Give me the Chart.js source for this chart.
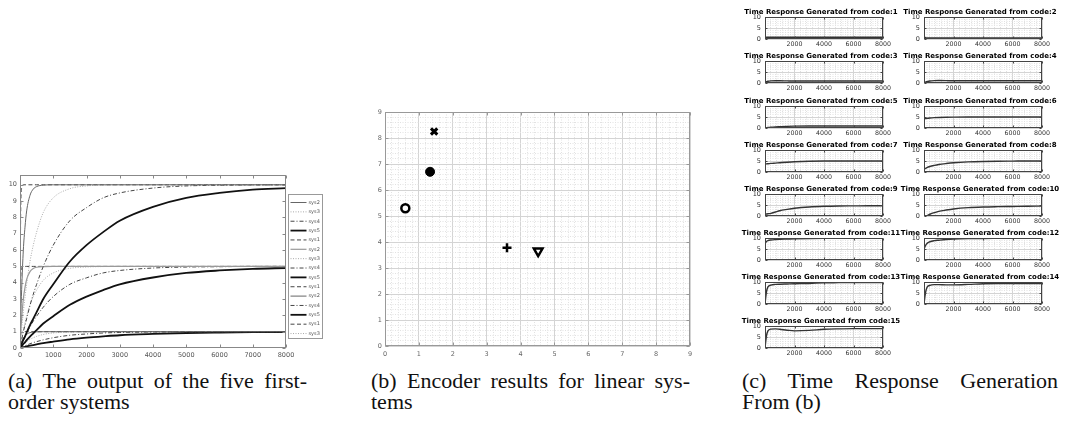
<!DOCTYPE html>
<html>
<head>
<meta charset="utf-8">
<script src="https://cdn.jsdelivr.net/npm/chart.js@4.4.1/dist/chart.umd.min.js"></script>
<style>
  body { margin: 0; background: #fff; width: 1069px; height: 426px; overflow: hidden; position: relative; }
  canvas { position: absolute; }
  .cap { position: absolute; font-family: "Liberation Serif", "Times New Roman", serif; font-size: 22px; line-height: 21px; color: #111; white-space: nowrap; }
  .cap .l1 { text-align: justify; text-align-last: justify; }
</style>
</head>
<body>

<div class="cap" style="left:8px; top:370px; width:299px;">
  <div class="l1">(a) The output of the five first-</div>
  <div>order systems</div>
</div>
<div class="cap" style="left:371px; top:370px; width:319px;">
  <div class="l1">(b) Encoder results for linear sys-</div>
  <div>tems</div>
</div>
<div class="cap" style="left:742px; top:370px; width:316px;">
  <div class="l1">(c) Time Response Generation</div>
  <div>From (b)</div>
</div>

<script>
// =====================
// (a) first-order outputs
// =====================

const tA = [0, 20, 50, 100, 150, 200, 300, 400, 500, 700, 1000, 1500, 2000, 2500, 3000, 4000, 5000, 6000, 7000, 8000];
const xTicksA = [0, 1000, 2000, 3000, 4000, 5000, 6000, 7000, 8000];
const yTicksA = [0, 1, 2, 3, 4, 5, 6, 7, 8, 9, 10];

// gain 10
const a10_sys2 = [0, 1.7, 3.6, 6.0, 7.4, 8.4, 9.35, 9.74, 9.89, 9.98, 10, 10, 10, 10, 10, 10, 10, 10, 10, 10];
const a10_sys3 = [0, 0.5, 1.2, 2.2, 3.1, 3.9, 5.3, 6.3, 7.1, 8.3, 9.2, 9.76, 9.93, 9.98, 10, 10, 10, 10, 10, 10];
const a10_sys4 = [0, 0.2, 0.5, 1.0, 1.4, 1.8, 2.6, 3.3, 3.9, 5.0, 6.3, 7.8, 8.6, 9.2, 9.5, 9.8, 9.93, 9.97, 9.99, 10];
const a10_sys5 = [0, 0.1, 0.25, 0.5, 0.7, 0.95, 1.4, 1.8, 2.2, 3.0, 3.9, 5.3, 6.3, 7.1, 7.8, 8.65, 9.2, 9.5, 9.7, 9.8];
const a10_sys1 = [0, 8.2, 9.8, 10, 10, 10, 10, 10, 10, 10, 10, 10, 10, 10, 10, 10, 10, 10, 10, 10];
// gain 5
const a5_sys2 = [0, 0.85, 1.8, 3.0, 3.7, 4.2, 4.68, 4.87, 4.95, 4.99, 5, 5, 5, 5, 5, 5, 5, 5, 5, 5];
const a5_sys3 = [0, 0.25, 0.6, 1.1, 1.55, 1.95, 2.65, 3.15, 3.55, 4.15, 4.6, 4.88, 4.96, 4.99, 5, 5, 5, 5, 5, 5];
const a5_sys4 = [0, 0.1, 0.25, 0.5, 0.7, 0.9, 1.3, 1.65, 1.95, 2.5, 3.15, 3.9, 4.3, 4.6, 4.75, 4.9, 4.96, 4.98, 5, 5];
const a5_sys5 = [0, 0.05, 0.12, 0.25, 0.35, 0.48, 0.7, 0.9, 1.1, 1.5, 1.95, 2.65, 3.15, 3.55, 3.9, 4.32, 4.6, 4.75, 4.85, 4.9];
const a5_sys1 = [0, 4.1, 4.9, 5, 5, 5, 5, 5, 5, 5, 5, 5, 5, 5, 5, 5, 5, 5, 5, 5];
// gain 1
const a1_sys2 = [0, 0.17, 0.36, 0.6, 0.74, 0.84, 0.94, 0.97, 0.99, 1, 1, 1, 1, 1, 1, 1, 1, 1, 1, 1];
const a1_sys4 = [0, 0.02, 0.05, 0.1, 0.14, 0.18, 0.26, 0.33, 0.39, 0.5, 0.63, 0.78, 0.86, 0.92, 0.95, 0.98, 0.99, 1, 1, 1];
const a1_sys5 = [0, 0.01, 0.025, 0.05, 0.07, 0.1, 0.14, 0.18, 0.22, 0.3, 0.39, 0.53, 0.63, 0.71, 0.78, 0.86, 0.92, 0.95, 0.97, 0.98];
const a1_sys1 = [0, 0.82, 0.98, 1, 1, 1, 1, 1, 1, 1, 1, 1, 1, 1, 1, 1, 1, 1, 1, 1];
const a1_sys3 = [0, 0.05, 0.12, 0.22, 0.31, 0.39, 0.53, 0.63, 0.71, 0.83, 0.92, 0.98, 0.99, 1, 1, 1, 1, 1, 1, 1];

// =====================
// (b) encoder results
// =====================

const encNames = ["o", "dot", "x", "+", "v"];
const encX = [0.6, 1.33, 1.45, 3.6, 4.52];
const encY = [5.3, 6.7, 8.25, 3.78, 3.65];
const xTicksB = [0, 1, 2, 3, 4, 5, 6, 7, 8, 9];
const yTicksB = [0, 1, 2, 3, 4, 5, 6, 7, 8, 9];

// =====================
// (c) generated time responses
// =====================

const tC = [0, 100, 200, 400, 700, 1000, 1500, 2000, 3000, 4000, 5000, 6000, 7000, 8000];
const xTicksC = [2000, 4000, 6000, 8000];
const yTicksC = [0, 5, 10];

const code1  = [0.6, 0.8, 0.8, 0.8, 0.8, 0.8, 0.8, 0.8, 0.8, 0.8, 0.8, 0.8, 0.8, 0.8];
const code2  = [1.0, 0.6, 0.5, 0.5, 0.5, 0.5, 0.5, 0.5, 0.5, 0.5, 0.5, 0.5, 0.5, 0.5];
const code3  = [0.3, 0.6, 0.8, 0.95, 1.0, 1.0, 0.95, 0.9, 0.9, 0.9, 0.9, 0.9, 0.9, 0.9];
const code4  = [0, 0.4, 0.6, 0.9, 1.1, 1.15, 1.1, 1.0, 1.0, 1.0, 1.0, 1.0, 1.0, 1.0];
const code5  = [0, 0.1, 0.2, 0.35, 0.5, 0.6, 0.75, 0.85, 0.9, 0.9, 0.9, 0.9, 0.9, 0.9];
const code6  = [4.2, 4.3, 4.4, 4.55, 4.7, 4.8, 4.9, 4.95, 5.0, 5.0, 5.0, 5.0, 5.0, 5.0];
const code7  = [3.6, 3.7, 3.75, 3.9, 4.05, 4.2, 4.45, 4.65, 4.9, 5.0, 5.0, 5.0, 5.0, 5.0];
const code8  = [1.2, 1.6, 2.0, 2.5, 3.0, 3.4, 3.85, 4.2, 4.6, 4.8, 4.9, 4.95, 5.0, 5.0];
const code9  = [0.8, 0.9, 1.0, 1.2, 1.8, 2.4, 3.0, 3.5, 4.1, 4.4, 4.55, 4.6, 4.65, 4.65];
const code10 = [0, 0, 0.2, 0.8, 1.5, 2.1, 2.7, 3.2, 3.8, 4.1, 4.25, 4.35, 4.45, 4.5];
const code11 = [7.5, 8.4, 8.8, 9.1, 9.3, 9.4, 9.5, 9.6, 9.75, 9.85, 9.9, 9.95, 10, 10];
const code12 = [5.0, 6.5, 7.5, 8.3, 8.8, 9.0, 9.3, 9.5, 9.7, 9.8, 9.85, 9.9, 9.95, 10];
const code13 = [0, 5.5, 7.8, 8.6, 8.9, 9.0, 9.1, 9.2, 9.35, 9.6, 9.7, 9.8, 9.8, 9.8];
const code14 = [0, 5.0, 7.5, 8.5, 8.8, 8.8, 8.7, 8.7, 8.9, 9.2, 9.3, 9.3, 9.3, 9.3];
const code15 = [0, 5.5, 7.8, 8.6, 8.7, 8.5, 8.1, 7.8, 8.0, 8.5, 8.7, 8.8, 8.8, 8.8];

const codes = [code1, code2, code3, code4, code5, code6, code7, code8, code9, code10, code11, code12, code13, code14, code15];

// =====================
// helpers
// =====================

Chart.defaults.font.family = "'DejaVu Sans', sans-serif";
Chart.defaults.animation = false;

function makeCanvas(left, top, w, h) {
  const c = document.createElement("canvas");
  c.width = w; c.height = h;
  c.style.left = left + "px"; c.style.top = top + "px";
  c.style.width = w + "px"; c.style.height = h + "px";
  document.body.appendChild(c);
  return c;
}

const pts = (xs, ys) => xs.map((x, i) => ({ x: x, y: ys[i] }));
const near = (v, list) => list.some(m => Math.abs(m - v) < 1e-6);
const steps = (from, to, step) => {
  const out = [];
  for (let i = 0; from + i * step <= to + 1e-9; i++) out.push(+(from + i * step).toFixed(4));
  return out;
};

// box round the plot + inward ticks on all four sides
const framePlugin = {
  id: "frame",
  afterDraw(chart, args, o) {
    const { ctx, chartArea: a, scales } = chart;
    const L = Math.round(a.left) + 0.5, T = Math.round(a.top) + 0.5;
    const R = Math.round(a.right) - 0.5, B = Math.round(a.bottom) - 0.5;
    ctx.save();
    ctx.strokeStyle = o.color;
    ctx.lineWidth = 1;
    ctx.strokeRect(L, T, R - L, B - T);
    ctx.beginPath();
    o.xTicks.forEach(v => {
      const p = Math.round(scales.x.getPixelForValue(v)) + 0.5;
      ctx.moveTo(p, B); ctx.lineTo(p, B - o.len);
      ctx.moveTo(p, T); ctx.lineTo(p, T + o.len);
    });
    o.yTicks.forEach(v => {
      const p = Math.round(scales.y.getPixelForValue(v)) + 0.5;
      ctx.moveTo(L, p); ctx.lineTo(L + o.len, p);
      ctx.moveTo(R, p); ctx.lineTo(R - o.len, p);
    });
    ctx.stroke();
    ctx.restore();
  }
};

// matlab style legend with line samples
const legendPlugin = {
  id: "lineLegend",
  afterDraw(chart, args, o) {
    const { ctx, chartArea } = chart;
    const x0 = Math.round(chartArea.right) + o.gap + 0.5;
    const y0 = o.top + 0.5;
    ctx.save();
    ctx.fillStyle = "#fff";
    ctx.fillRect(x0, y0, o.width, o.height);
    ctx.strokeStyle = "#999";
    ctx.lineWidth = 1;
    ctx.strokeRect(x0, y0, o.width, o.height);
    ctx.font = o.fontSize + "px 'DejaVu Sans'";
    ctx.textBaseline = "middle";
    chart.data.datasets.forEach((ds, i) => {
      const y = y0 + o.first + i * o.step;
      ctx.setLineDash(ds.borderDash || []);
      ctx.strokeStyle = ds.borderColor;
      ctx.lineWidth = ds.borderWidth;
      ctx.beginPath();
      ctx.moveTo(x0 + 2, y);
      ctx.lineTo(x0 + 18, y);
      ctx.stroke();
      ctx.setLineDash([]);
      ctx.fillStyle = "#555";
      ctx.fillText(ds.label, x0 + 20, y);
    });
    ctx.restore();
  }
};

// =====================
// (a) chart
// =====================

const SOLID = [], DOT = [1, 1.5], DASH = [4, 2.5], DASHDOT = [4, 2, 1, 2];
function lineSet(label, ys, color, width, dash) {
  return {
    label: label, data: pts(tA, ys),
    borderColor: color, borderWidth: width, borderDash: dash,
    pointRadius: 0, cubicInterpolationMode: "monotone", fill: false
  };
}

new Chart(makeCanvas(0, 165, 330, 200), {
  type: "line",
  data: {
    datasets: [
      lineSet("sys2", a10_sys2, "#666", 1, SOLID),
      lineSet("sys3", a10_sys3, "#aaa", 1, DOT),
      lineSet("sys4", a10_sys4, "#444", 1, DASHDOT),
      lineSet("sys5", a10_sys5, "#111", 1.8, SOLID),
      lineSet("sys1", a10_sys1, "#444", 1, DASH),
      lineSet("sys2", a5_sys2, "#999", 1.2, SOLID),
      lineSet("sys3", a5_sys3, "#aaa", 1, DOT),
      lineSet("sys4", a5_sys4, "#444", 1, DASHDOT),
      lineSet("sys5", a5_sys5, "#111", 1.8, SOLID),
      lineSet("sys1", a5_sys1, "#444", 1, DASH),
      lineSet("sys2", a1_sys2, "#666", 1, SOLID),
      lineSet("sys4", a1_sys4, "#444", 1, DASHDOT),
      lineSet("sys5", a1_sys5, "#111", 1.8, SOLID),
      lineSet("sys1", a1_sys1, "#444", 1, DASH),
      lineSet("sys3", a1_sys3, "#aaa", 1, DOT)
    ]
  },
  options: {
    responsive: false,
    layout: { padding: { top: 10, right: 44, left: 0, bottom: 0 } },
    plugins: {
      legend: { display: false },
      tooltip: { enabled: false },
      frame: { color: "#888", len: 3, xTicks: xTicksA, yTicks: yTicksA },
      lineLegend: { gap: 2, top: 29, width: 34, height: 144, first: 8, step: 9.36, fontSize: 5 }
    },
    scales: {
      x: {
        type: "linear", min: 0, max: 8000,
        afterBuildTicks: s => { s.ticks = xTicksA.map(v => ({ value: v })); },
        afterFit: s => { s.height = 17; },
        grid: { display: false, drawTicks: false },
        border: { display: false },
        ticks: { color: "#555", font: { size: 6.5 }, padding: 3, autoSkip: false, maxRotation: 0,
                 callback: v => String(v) }
      },
      y: {
        min: 0, max: 10.6,
        afterBuildTicks: s => { s.ticks = yTicksA.map(v => ({ value: v })); },
        afterFit: s => { s.width = 20; },
        grid: { display: false, drawTicks: false },
        border: { display: false },
        ticks: { color: "#555", font: { size: 6.5 }, padding: 3, autoSkip: false,
                 callback: v => String(v) }
      }
    }
  },
  plugins: [framePlugin, legendPlugin]
});

// =====================
// (b) chart
// =====================

const markerStyles = [
  { pointStyle: "circle", radius: 4, borderWidth: 2.5, bg: "#fff", rotation: 0 },
  { pointStyle: "circle", radius: 4.5, borderWidth: 1, bg: "#000", rotation: 0 },
  { pointStyle: "crossRot", radius: 4.5, borderWidth: 3, bg: "#000", rotation: 0 },
  { pointStyle: "cross", radius: 4.5, borderWidth: 2.5, bg: "#000", rotation: 0 },
  { pointStyle: "triangle", radius: 5, borderWidth: 2.5, bg: "#fff", rotation: 180 }
];

const gridColor = majors => c => near(c.tick.value, majors) ? "#d4d4d4" : "#e2e2e2";
const gridDash = majors => c => (c.tick && near(c.tick.value, majors)) ? [] : [1, 1.5];

new Chart(makeCanvas(360, 100, 340, 265), {
  type: "scatter",
  data: {
    datasets: encNames.map((name, i) => ({
      label: name,
      data: [{ x: encX[i], y: encY[i] }],
      pointStyle: markerStyles[i].pointStyle,
      pointRadius: markerStyles[i].radius,
      pointBorderWidth: markerStyles[i].borderWidth,
      pointRotation: markerStyles[i].rotation,
      pointBackgroundColor: markerStyles[i].bg,
      pointBorderColor: "#000"
    }))
  },
  options: {
    responsive: false,
    layout: { padding: { top: 12, right: 10, left: 0, bottom: 0 } },
    plugins: {
      legend: { display: false },
      tooltip: { enabled: false },
      frame: { color: "#999", len: 3, xTicks: xTicksB, yTicks: yTicksB }
    },
    scales: {
      x: {
        type: "linear", min: 0, max: 9,
        afterBuildTicks: s => { s.ticks = steps(0, 9, 0.2).map(v => ({ value: v })); },
        afterFit: s => { s.height = 19; },
        grid: { color: gridColor(xTicksB), drawTicks: false },
        border: { display: false, dash: gridDash(xTicksB) },
        ticks: { color: "#666", font: { size: 6.5 }, padding: 4, autoSkip: false, maxRotation: 0,
                 callback: v => near(v, xTicksB) ? String(Math.round(v)) : "" }
      },
      y: {
        min: 0, max: 9,
        afterBuildTicks: s => { s.ticks = steps(0, 9, 0.2).map(v => ({ value: v })); },
        afterFit: s => { s.width = 25; },
        grid: { color: gridColor(yTicksB), drawTicks: false },
        border: { display: false, dash: gridDash(yTicksB) },
        ticks: { color: "#666", font: { size: 6.5 }, padding: 3, autoSkip: false,
                 callback: v => near(v, yTicksB) ? String(Math.round(v)) : "" }
      }
    }
  },
  plugins: [framePlugin]
});

// =====================
// (c) small multiples
// =====================

const colLeft = [765, 924];
const rowTop = [17, 61, 106, 150, 194, 238, 282, 326];
const xMajorC = [0, 2000, 4000, 6000, 8000];
const yMajorC = [0, 5, 10];

codes.forEach((ys, i) => {
  const plotLeft = colLeft[i % 2];
  const plotTop = rowTop[Math.floor(i / 2)];
  new Chart(makeCanvas(plotLeft - 30, plotTop - 14, 172, 47), {
    type: "line",
    data: {
      datasets: [{
        label: "code:" + (i + 1),
        data: pts(tC, ys),
        borderColor: "#333", borderWidth: 1.4,
        pointRadius: 0, cubicInterpolationMode: "monotone", fill: false
      }]
    },
    options: {
      responsive: false,
      layout: { padding: 0 },
      plugins: {
        legend: { display: false },
        tooltip: { enabled: false },
        title: {
          display: true, text: "Time Response Generated from code:" + (i + 1),
          color: "#000", font: { size: 7, weight: "bold" },
          padding: { top: 4.6, bottom: 1 }
        },
        frame: { color: "#444", len: 2, xTicks: xTicksC, yTicks: yTicksC }
      },
      scales: {
        x: {
          type: "linear", min: 0, max: 8000,
          afterBuildTicks: s => { s.ticks = steps(0, 8000, 400).map(v => ({ value: v })); },
          afterFit: s => { s.height = 11; },
          grid: { color: gridColor(xMajorC), drawTicks: false },
          border: { display: false, dash: gridDash(xMajorC) },
          ticks: { color: "#333", font: { size: 6.3 }, padding: 1.5, autoSkip: false, maxRotation: 0,
                   callback: v => near(v, xTicksC) ? String(v) : "" }
        },
        y: {
          min: 0, max: 10,
          afterBuildTicks: s => { s.ticks = steps(0, 10, 1).map(v => ({ value: v })); },
          afterFit: s => { s.width = 30; },
          grid: { color: gridColor(yMajorC), drawTicks: false },
          border: { display: false, dash: gridDash(yMajorC) },
          ticks: { color: "#333", font: { size: 6.5 }, padding: 4, autoSkip: false,
                   callback: v => near(v, yTicksC) ? String(v) : "" }
        },
        // empty right axis, only keeps the title centred like the original
        y2: {
          position: "right", min: 0, max: 10,
          afterFit: s => { s.width = 24; },
          grid: { display: false, drawTicks: false },
          border: { display: false },
          ticks: { display: false }
        }
      }
    },
    plugins: [framePlugin]
  });
});
</script>
</body>
</html>
